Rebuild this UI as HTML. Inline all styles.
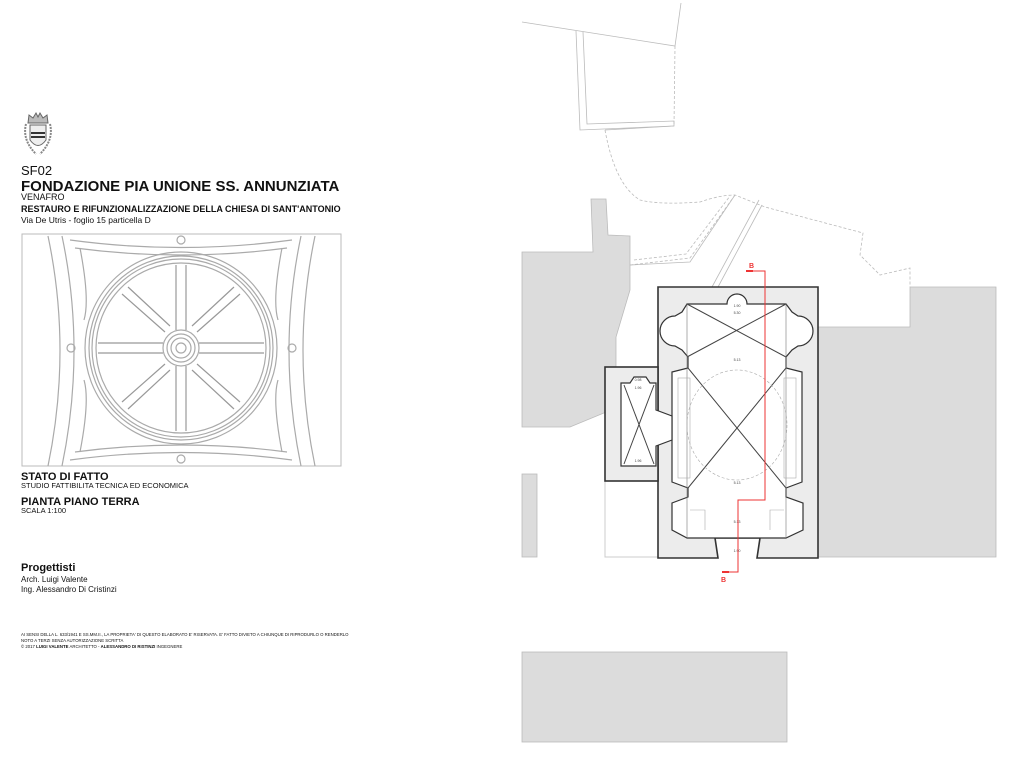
<!DOCTYPE html>
<html><head><meta charset="utf-8"><style>
body{margin:0;width:1024px;height:761px;background:#fff;overflow:hidden;position:relative;font-family:"Liberation Sans",sans-serif;color:#111}
.t{position:absolute;white-space:nowrap;line-height:1}
b{font-weight:bold}
</style></head><body>
<div class="t" style="left:21px;top:164px;font-size:13px">SF02</div>
<div class="t" style="left:21px;top:179px;font-size:15px;font-weight:bold">FONDAZIONE PIA UNIONE SS. ANNUNZIATA</div>
<div class="t" style="left:21px;top:193px;font-size:9px">VENAFRO</div>
<div class="t" style="left:21px;top:205px;font-size:9px;font-weight:bold">RESTAURO E RIFUNZIONALIZZAZIONE DELLA CHIESA DI SANT'ANTONIO</div>
<div class="t" style="left:21px;top:216px;font-size:8.5px">Via De Utris - foglio 15 particella D</div>
<div class="t" style="left:21px;top:472px;font-size:11px;font-weight:bold">STATO DI FATTO</div>
<div class="t" style="left:21px;top:482px;font-size:7.5px">STUDIO FATTIBILITA TECNICA ED ECONOMICA</div>
<div class="t" style="left:21px;top:497px;font-size:11px;font-weight:bold">PIANTA PIANO TERRA</div>
<div class="t" style="left:21px;top:507px;font-size:7.5px">SCALA 1:100</div>
<div class="t" style="left:21px;top:563px;font-size:11px;font-weight:bold">Progettisti</div>
<div class="t" style="left:21px;top:576px;font-size:8px">Arch. Luigi Valente</div>
<div class="t" style="left:21px;top:586px;font-size:8px">Ing. Alessandro Di Cristinzi</div>
<div class="t" style="left:21px;top:633px;font-size:4.3px">AI SENSI DELLA L. 633/1941 E SS.MM.II., LA PROPRIETA' DI QUESTO ELABORATO E' RISERVATA. E' FATTO DIVIETO A CHIUNQUE DI RIPRODURLO O RENDERLO</div>
<div class="t" style="left:21px;top:639px;font-size:4.3px">NOTO A TERZI SENZA AUTORIZZAZIONE SCRITTA</div>
<div class="t" style="left:21px;top:645px;font-size:4.3px">© 2017 <b>LUIGI VALENTE</b> ARCHITETTO - <b>ALESSANDRO DI RISTINZI</b> INGEGNERE</div>

<svg width="1024" height="761" style="position:absolute;left:0;top:0" xmlns="http://www.w3.org/2000/svg">
<!-- logo -->
<g fill="none" stroke="#666" stroke-width="1">
<path d="M28 123 L29 115 L33 118 L36 113 L38 117 L40 113 L43 118 L47 115 L48 123 Z" fill="#bbb"/>
<path d="M30 125 H46 V140 Q38 151 30 140 Z" fill="#eee"/>
<line x1="31" y1="133" x2="45" y2="133" stroke-width="2" stroke="#333"/>
<line x1="31" y1="137" x2="45" y2="137" stroke-width="2" stroke="#333"/>
<path d="M26 124 Q22 140 36 154 M50 124 Q54 140 40 154" stroke="#888" stroke-width="2" stroke-dasharray="2,1"/>
</g>
<!-- ceiling -->
<rect x="22" y="234" width="319" height="232" fill="none" stroke="#bbb"/>
<g fill="none" stroke="#aaa" stroke-width="1.2">
<path d="M48 236 Q72 350 48 466 M62 236 Q86 350 62 466"/>
<path d="M315 236 Q291 350 315 466 M301 236 Q277 350 301 466"/>
<path d="M70 240 Q181 255 292 240 M75 248 Q181 262 287 248"/>
<path d="M70 460 Q181 445 292 460 M75 452 Q181 438 287 452"/>
<path d="M80 248 Q90 300 84 320 M282 248 Q272 300 278 320 M80 452 Q90 400 84 380 M282 452 Q272 400 278 380"/>
<circle cx="181" cy="348" r="96"/><circle cx="181" cy="348" r="92"/><circle cx="181" cy="348" r="89"/><circle cx="181" cy="348" r="85"/>
<circle cx="181" cy="348" r="18"/><circle cx="181" cy="348" r="14"/><circle cx="181" cy="348" r="10"/><circle cx="181" cy="348" r="5"/>
<g stroke="#999">
<path d="M176 265 V330 M186 265 V330 M176 366 V431 M186 366 V431"/>
<path d="M98 343 H163 M98 353 H163 M199 343 H264 M199 353 H264"/>
<path d="M122 294 L165 332 M128 287 L170 326 M240 294 L197 332 M234 287 L192 326 M122 402 L165 364 M128 409 L170 370 M240 402 L197 364 M234 409 L192 370"/>
</g>
<circle cx="181" cy="240" r="4"/><circle cx="181" cy="459" r="4"/><circle cx="71" cy="348" r="4"/><circle cx="292" cy="348" r="4"/>
</g>

<!-- context dashed lines -->
<g fill="none" stroke="#bbb" stroke-width="0.8">
<path d="M522 22 L675 46 L681 3"/>
<path d="M576 31 L580 130 L674 126 L674 121 L587 124 L583 32"/>
<path d="M605 130 L674 126" />
<path d="M675 46 L674 126 M605 130 Q615 185 640 200 Q660 205 700 202 Q720 195 735 195 L765 207 L863 233 L860 255 L880 275 L910 268 V287" stroke-dasharray="3,2"/>
<path d="M630 265 L690 258 L735 195 M634 260 L686 254 L730 196" stroke-dasharray="3,2"/>
<path d="M630 265 L690 262 L735 195" />
<path d="M712 287 L759 200 M718 287 L762 205"/>
</g>
<!-- gray neighbours -->
<g fill="#dcdcdc" stroke="#bbb" stroke-width="0.8">
<path d="M522 252 L593 252 L591 199 L606 199 L608 235 L630 236 L630 290 L616 337 L616 408 L570 427 L522 427 Z"/>
<path d="M818 327 L910 327 L910 287 L996 287 L996 557 L818 557 Z"/>
<rect x="522" y="474" width="15" height="83"/>
<rect x="522" y="652" width="265" height="90"/>
</g>
<path d="M605 481 V557 H658" fill="none" stroke="#ccc"/>

<!-- building -->
<g stroke="#333" stroke-width="1.6">
<path d="M658 287 H818 V558 H757 L760 538 H715 L718 558 H658 Z" fill="#ececec"/>
<rect x="605" y="367" width="53" height="114" fill="#ececec"/>
</g>
<g fill="#fff" stroke="#333" stroke-width="1.2">
<path d="M687 304 H727 A10 10 0 0 1 747 304 H786 L792 312 L798 316 A10 10 0 0 1 798 346 L792 350 L786 357 V368 L802 372 V482 L786 488 V497 L803 503 V530 L786 538 H687 L672 530 V503 L688 497 V488 L672 482 V372 L688 368 V357 L682 350 L675 346 A10 10 0 0 1 675 316 L682 312 Z"/>
<path d="M621 383 H630 L634 377 H646 L650 383 H656 V410 L672 416 V440 L656 446 V466 H621 Z"/>
</g>
<g fill="none" stroke="#444" stroke-width="1">
<path d="M687 304 L786 357 M786 304 L687 357 M688 368 L786 488 M786 368 L688 488 M624 385 L654 464 M654 385 L624 464"/>
<path d="M687 304 V538 M786 304 V538" stroke="#777" stroke-width="0.6"/>
</g>
<g fill="none" stroke="#aaa" stroke-width="0.6">
<rect x="678" y="378" width="12" height="100"/><rect x="784" y="378" width="12" height="100"/>
<ellipse cx="737" cy="425" rx="50" ry="55" stroke-dasharray="3,2"/>
<path d="M690 510 H705 V530 M784 510 H770 V530"/>
</g>
<g font-size="3.5" fill="#444" text-anchor="middle" font-family="Liberation Sans">
<text x="737" y="307">1.90</text><text x="737" y="314">5.30</text><text x="737" y="361">5.13</text>
<text x="737" y="484">5.13</text><text x="737" y="523">5.13</text><text x="737" y="552">1.90</text>
<text x="638" y="381">0.98</text><text x="638" y="389">1.96</text><text x="638" y="462">1.96</text>
</g>
<!-- red section -->
<g fill="none" stroke="#e33" stroke-width="1">
<path d="M748 271 H765 V500 H738 V572 H728"/>
</g>
<rect x="746" y="270" width="7" height="2" fill="#e33"/>
<rect x="722" y="571" width="7" height="2" fill="#e33"/>
<text x="749" y="268" font-size="7" font-weight="bold" fill="#e33" font-family="Liberation Sans">B</text>
<text x="721" y="582" font-size="7" font-weight="bold" fill="#e33" font-family="Liberation Sans">B</text>
</svg>
</body></html>
